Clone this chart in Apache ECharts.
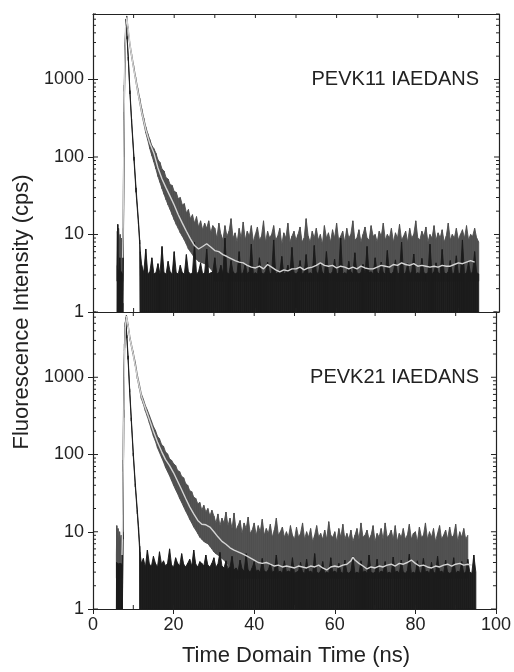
<!DOCTYPE html>
<html>
<head>
<meta charset="utf-8">
<script src="https://cdn.jsdelivr.net/npm/echarts@6/dist/echarts.min.js"></script>
<style>
    html, body { margin: 0; padding: 0; background: #fff; }
    #decayChart { width: 514px; height: 672px; }
</style>
</head>
<body>
<div id="decayChart"></div>
<script>
"use strict";

// ---- PEVK11 (upper panel) ----
// measured decay, [time ns, low edge, high edge] where the trace has a shape
var decay11Shape = [
    [5.9, 2.5, 4], [6.0, 2.5, 11], [6.15, 2.5, 7], [6.3, 2.5, 12], [6.5, 2.5, 8], [6.7, 2.5, 10],
    [6.9, 2.5, 6.5], [7.1, 2.5, 9], [7.3, 2.5, 6], [7.4, 8, 12], [7.55, 100, 130], [7.7, 700, 850],
    [7.9, 2600, 3000], [8.1, 4800, 5300], [8.3, 6200, 6600], [8.6, 4500, 4800], [9.0, 2900, 3150],
    [9.5, 1950, 2150], [10, 1380, 1520], [10.5, 970, 1080], [11, 690, 780], [11.5, 500, 575],
    [12, 360, 420], [12.5, 272, 318], [13, 205, 245], [13.5, 165, 200], [14, 128, 168], [14.5, 104, 140],
    [15, 86, 128], [15.5, 70, 112], [16, 56, 92], [16.5, 47, 85], [17, 39, 70], [17.5, 33, 66],
    [18, 28, 54], [18.5, 24, 52], [19, 21, 44], [19.5, 18, 43], [20, 15.5, 36], [20.5, 13.5, 35],
    [21, 12, 29], [21.5, 10.5, 30], [22, 9.5, 24], [22.5, 8.5, 25], [23, 7.5, 19], [23.5, 6.5, 21],
    [24, 6, 16], [24.5, 5.5, 18], [25, 5, 14], [25.5, 4.8, 17], [26, 4.5, 12.5], [26.5, 4.4, 15],
    [27, 4.3, 11.5], [27.5, 4.2, 14], [28, 4.0, 12], [28.5, 3.8, 15], [29, 3.6, 10.5], [29.5, 3.3, 13]
];
// noisy tail, high edge every 0.5 ns from 30 ns
var decay11TailStart = 30;
var decay11TailLo = 2.5;
var decay11TailHi = [
    12, 9, 14, 10, 8.5, 13, 9.5, 11, 16, 9, 10.5, 8, 12, 9, 14.5, 8.5, 11, 9.5, 13, 8,
    10, 12.5, 8.5, 9.5, 15, 8, 11, 9, 10, 13, 8.5, 9.5, 12, 7.5, 10.5, 9, 14, 8, 9.5, 11,
    8.5, 10, 12.5, 8, 9, 16, 9.5, 8, 11, 9, 12, 8.5, 10, 7.5, 13, 9, 10.5, 8, 11.5, 9,
    14, 8.5, 9.5, 11, 8, 12, 9, 10, 15, 8.5, 9, 11.5, 8, 10, 12.5, 9, 8.5, 13, 9.5, 10,
    8, 11, 9.5, 14, 8.5, 10, 9, 12, 8, 10.5, 9, 13.5, 8.5, 9.5, 11, 8, 12, 9, 10, 15,
    9, 8.5, 11, 9.5, 12.5, 8, 10, 9, 13, 8.5, 10.5, 9, 11.5, 8, 9.5, 14, 8.5, 10, 9, 12,
    8.5, 10, 11.5, 9, 13, 8.5, 10, 9.5, 12, 9, 8
];
// instrument response (black)
var irf11Shape = [
    [5.95, 1, 1], [6.0, 1, 4], [6.1, 1, 13.5], [6.2, 1, 3.5], [6.4, 1, 3.2], [6.6, 1, 5], [6.8, 1, 3.1],
    [7.0, 1, 3.3], [7.2, 1, 3.1], [7.3, 1, 1], [7.35, 1, 1.3], [7.5, 8, 10], [7.7, 300, 380],
    [7.9, 2400, 2800], [8.1, 5500, 6000], [8.4, 3300, 3600], [8.7, 1750, 1950], [9.1, 650, 720],
    [9.5, 280, 310], [10.1, 90, 100], [10.6, 35, 40], [11.2, 13.5, 15], [11.5, 7.5, 8.5], [11.65, 1, 6]
];
var irf11TailStart = 12;
var irf11TailLo = 1;
var irf11TailHi = [
    4, 3.2, 6.5, 3.1, 3.3, 5, 3.1, 3.2, 4.2, 3.1, 7, 3.2, 3.1, 4.5, 3.3, 3.1, 6, 3.2, 3.1, 4,
    3.2, 3.1, 5.5, 3.3, 3.1, 3.2, 8, 3.1, 3.3, 4.3, 3.1, 3.2, 6.5, 3.1, 3.2, 3.3, 5, 3.1, 3.2, 4,
    3.1, 9, 3.2, 3.1, 4.6, 3.3, 3.1, 3.2, 6, 3.1, 3.2, 4.2, 3.1, 3.3, 7.5, 3.1, 3.2, 3.1, 5, 3.2,
    3.1, 3.3, 4.4, 3.1, 3.2, 8.5, 3.1, 3.2, 3.3, 5.2, 3.1, 3.2, 4, 3.1, 6.8, 3.2, 3.1, 3.3, 4.6, 3.1,
    3.2, 5.5, 3.1, 3.2, 3.1, 7.2, 3.3, 3.1, 4.3, 3.2, 3.1, 6, 3.2, 3.1, 3.3, 4.8, 3.1, 3.2, 9, 3.1,
    3.2, 3.1, 4.5, 3.3, 3.1, 5.8, 3.2, 3.1, 3.2, 4.1, 3.1, 7, 3.2, 3.3, 3.1, 5, 3.2, 3.1, 4.4, 3.2,
    3.1, 6.2, 3.2, 3.1, 3.3, 4.7, 3.1, 3.2, 8, 3.1, 3.2, 4.2, 3.1, 3.3, 5.6, 3.1, 3.2, 3.1, 4.9, 3.2,
    3.1, 3.2, 7.5, 3.1, 3.3, 4.3, 3.2, 3.1, 6.4, 3.2, 3.1, 3.3, 4.6, 3.1, 3.2, 5.3, 3.1, 3.2, 8.5, 3.1,
    3.2, 4.4, 3.1, 3.3, 6, 3.2, 3.1
];
// fitted curve (light line)
var fit11 = [
    [7.3, 5], [7.4, 10], [7.6, 150], [7.8, 1500], [8.0, 4500], [8.3, 6300], [8.7, 4400], [9.2, 2600],
    [10, 1400], [11, 720], [12, 380], [13, 225], [14, 150], [15, 112], [16, 72], [17, 52], [18, 40],
    [19, 31], [20, 24], [21, 18], [22, 14], [23, 11], [24, 8.8], [25, 7.2], [26, 6.5], [27, 7.0],
    [28, 7.6], [29, 6.9], [30, 6.2], [31, 6.0], [32, 5.5], [33, 5.2], [34, 4.9], [35, 4.6], [36, 4.4],
    [37, 4.3], [38, 4.0], [39, 3.8], [40, 3.7], [41, 3.9], [42, 3.6], [43, 4.1], [44, 3.8], [45, 3.5],
    [46, 3.3], [47, 3.5], [48, 3.4], [49, 3.6], [50, 3.6], [51, 3.8], [52, 3.5], [53, 3.7], [54, 3.8],
    [55, 4.0], [56, 4.3], [57, 4.0], [58, 3.9], [59, 4.0], [60, 3.7], [61, 3.9], [62, 3.8], [63, 3.6],
    [64, 3.8], [65, 3.6], [66, 3.9], [67, 3.7], [68, 3.6], [69, 3.6], [70, 3.8], [71, 4.0], [72, 3.9],
    [73, 3.8], [74, 4.1], [75, 4.0], [76, 4.3], [77, 4.1], [78, 4.0], [79, 4.2], [80, 3.9], [81, 4.0],
    [82, 3.9], [83, 3.8], [84, 3.9], [85, 3.8], [86, 4.0], [87, 3.9], [88, 3.9], [89, 4.1], [90, 4.3],
    [91, 4.2], [92, 4.4], [93, 4.6], [94, 4.4]
];

// ---- PEVK21 (lower panel) ----
var decay21Shape = [
    [5.8, 2.5, 5], [5.9, 2.5, 12], [6.05, 2.5, 8], [6.2, 2.5, 11], [6.4, 2.5, 7], [6.6, 2.5, 10],
    [6.8, 2.5, 7.5], [7.0, 2.5, 9], [7.2, 2.5, 6], [7.3, 5, 8], [7.45, 60, 85], [7.6, 500, 650],
    [7.8, 2200, 2700], [8.0, 4500, 5100], [8.3, 6000, 6400], [8.7, 4500, 4900], [9.2, 3000, 3250],
    [9.9, 2000, 2200], [10.5, 1400, 1560], [11, 960, 1080], [11.5, 720, 820], [12, 530, 610],
    [12.5, 450, 520], [13, 365, 430], [13.5, 310, 375], [14, 255, 320], [14.5, 210, 272], [15, 172, 230],
    [15.5, 148, 205], [16, 122, 172], [16.5, 106, 160], [17, 92, 135], [17.5, 80, 128], [18, 68, 108],
    [18.5, 60, 102], [19, 53, 88], [19.5, 46, 84], [20, 40, 76], [20.5, 35, 72], [21, 31, 62],
    [21.5, 27, 60], [22, 24, 52], [22.5, 21, 50], [23, 18.5, 42], [23.5, 16.5, 40], [24, 14.5, 34],
    [24.5, 13, 33], [25, 11.5, 28], [25.5, 10.5, 27], [26, 9.5, 23], [26.5, 8.5, 24], [27, 8, 19],
    [27.5, 7.5, 22], [28, 7.2, 18], [28.5, 7, 20], [29, 6.5, 16], [29.5, 6, 19], [30, 5.5, 16],
    [30.5, 5.2, 13], [31, 5, 17], [31.5, 4.8, 12], [32, 4.5, 15], [32.5, 4.3, 13], [33, 4, 18], [33.5, 3.8, 12]
];
var decay21TailStart = 34;
var decay21TailLo = 2.5;
var decay21TailHi = [
    15, 11, 17.5, 10.5, 12, 14, 9.5, 13,
    11, 15.5, 9.5, 10.5, 13, 9, 12, 10, 14.5, 9, 11, 9.5, 12.5, 8.5, 10.5, 15, 9, 10, 11.5, 8.5,
    10, 8.5, 12, 9, 8, 11.5, 8.5, 9.5, 13, 8, 10, 8.5, 11, 7.5, 9, 12, 8.5, 9.5, 8, 10.5,
    8, 13.5, 9, 8.5, 10, 7.5, 11, 8.5, 12.5, 8, 9.5, 8, 10.5, 7.5, 9, 11, 8, 13, 8.5, 9,
    10.5, 8, 9, 12, 7.5, 9.5, 8.5, 11, 8, 13, 8.5, 9, 10.5, 8, 12, 7.5, 9.5, 8.5, 11, 8,
    9, 12.5, 8, 9.5, 10, 7.5, 11.5, 8.5, 9, 13, 8, 10, 8.5, 11, 7.5, 9.5, 12, 8, 9, 10.5,
    8, 11.5, 8.5, 9, 12.5, 7.5, 10, 8.5, 11, 8, 9
];
var irf21Shape = [
    [5.8, 1, 1], [5.85, 1, 4], [5.95, 1, 3.8], [6.1, 1, 3.9], [6.3, 1, 3.7], [6.5, 1, 3.9], [6.7, 1, 3.6],
    [6.9, 1, 3.9], [7.1, 1, 3.7], [7.2, 1, 1], [7.3, 1, 1.3], [7.45, 8, 10], [7.65, 300, 380],
    [7.85, 2400, 2800], [8.1, 5400, 5900], [8.4, 3200, 3500], [8.7, 1700, 1900], [9.1, 640, 710],
    [9.5, 270, 300], [10.0, 95, 105], [10.5, 38, 42], [11, 17, 19], [11.3, 10, 11.5], [11.6, 5.5, 6.5],
    [11.65, 1, 5.5]
];
var irf21TailStart = 12;
var irf21TailLo = 1;
var irf21TailHi = [
    3.9, 4.5, 3.5, 5.8, 3.8, 3.6, 4.8, 3.9, 3.5, 5.5, 3.8, 4.2, 3.6, 3.9, 6, 3.7, 3.5, 4.6, 3.9, 3.6,
    5.2, 3.8, 3.5, 3.9, 4.4, 3.6, 5.8, 3.8, 3.5, 4.1, 3.9, 3.6, 5, 3.7, 3.5, 3.9, 4.6, 3.5, 3.8, 5.4,
    3.6, 3.4, 4.2, 3.3, 3.5, 4.8, 3.2, 3.4, 3.1, 4.3, 3.3, 3.1, 5.2, 3.2, 3.0, 3.4, 4.1, 3.1, 3.2, 3.0,
    4.5, 3.1, 3.0, 3.2, 3.9, 3.0, 3.1, 5, 3.0, 3.1, 2.9, 4.2, 3.0, 3.1, 3.0, 4.6, 2.9, 3.0, 3.1, 4,
    3.0, 2.9, 4.4, 3.0, 3.1, 2.9, 5.2, 3.0, 2.9, 3.1, 4.1, 2.9, 3.0, 2.9, 4.6, 3.0, 3.1, 2.9, 3.9, 3.0,
    2.9, 4.3, 3.0, 2.9, 3.1, 4.8, 2.9, 3.0, 2.9, 4.2, 3.0, 3.1, 2.9, 5, 3.0, 2.9, 3.0, 4.4, 2.9, 3.1,
    3.0, 4.1, 2.9, 3.0, 2.9, 4.7, 3.0, 3.1, 2.9, 4.3, 3.0, 2.9, 3.1, 5.1, 2.9, 3.0, 2.9, 4.2, 3.0, 2.9,
    4.5, 3.0, 3.1, 2.9, 4, 3.0, 2.9, 4.8, 3.0, 3.1, 2.9, 4.3, 3.0, 2.9, 3.0, 4.6, 2.9, 3.1, 3.0, 4.1,
    2.9, 3.0, 4.4, 3.0, 2.9, 5, 3.0
];
var fit21 = [
    [7.2, 5], [7.35, 12], [7.6, 200], [7.8, 1500], [8.0, 4300], [8.3, 6200], [8.7, 4700], [9.2, 3100],
    [9.9, 2100], [11, 1000], [12, 570], [13, 400], [14, 285], [15, 200], [16, 145], [17, 110], [18, 86],
    [19, 72], [20, 58], [21, 45], [22, 35], [23, 27], [24, 21], [25, 17], [26, 14], [27, 12.5],
    [28, 12.3], [29, 11.5], [30, 10], [31, 8.6], [32, 7.5], [33, 6.9], [34, 6.2], [35, 5.8], [36, 5.5],
    [37, 5.2], [38, 4.9], [39, 4.6], [40, 4.3], [41, 4.0], [42, 3.9], [43, 4.0], [44, 3.8], [45, 3.6],
    [46, 3.7], [47, 3.5], [48, 3.6], [49, 3.5], [50, 3.4], [51, 3.6], [52, 3.5], [53, 3.4], [54, 3.6],
    [55, 3.5], [56, 3.7], [57, 3.4], [58, 3.2], [59, 3.5], [60, 3.6], [61, 3.5], [62, 3.7], [63, 3.8],
    [64, 4.2], [64.5, 4.7], [65, 4.3], [66, 3.9], [67, 3.6], [68, 3.3], [69, 3.5], [70, 3.4], [71, 3.6],
    [72, 3.5], [73, 3.7], [74, 3.8], [75, 3.6], [76, 3.9], [77, 3.8], [78, 4.0], [79, 4.3], [80, 3.9],
    [81, 3.6], [82, 3.7], [83, 3.5], [84, 3.4], [85, 3.6], [86, 3.5], [87, 3.7], [88, 3.8], [89, 3.6],
    [90, 3.8], [91, 3.9], [92, 3.7], [93, 3.8], [94, 3.7]
];

var tailStep = 0.5;
var panelTitles = ["PEVK11 IAEDANS", "PEVK21 IAEDANS"];
var yMajorTicks = [1, 10, 100, 1000];
var yMinorTicks = [2, 3, 4, 5, 6, 7, 8, 9, 20, 30, 40, 50, 60, 70, 80, 90,
    200, 300, 400, 500, 600, 700, 800, 900, 2000, 3000, 4000, 5000, 6000, 7000];
var xInnerTicks = [10, 20, 30, 40, 50, 60, 70, 80, 90];

var fontName = "'Liberation Sans', Arial, Helvetica, sans-serif";
var inkColor = "#222222";
var decayColor = "#505050";
var irfColor = "#1c1c1c";
var fitColor = "#d4d4d4";

(function () {
    var chart = echarts.init(document.getElementById("decayChart"), null, {renderer: "canvas"});

    // join the shaped part and the tail into one list of [t, lo, hi], then into segments
    function buildSegments(shape, tailStart, tailLo, tailHi) {
        var points = shape.slice();
        tailHi.forEach(function (hi, i) {
            points.push([tailStart + i * tailStep, tailLo, hi]);
        });
        var segments = [];
        for (var i = 0; i < points.length - 1; i++) {
            var a = points[i], b = points[i + 1];
            segments.push([a[0], a[1], a[2], b[0], b[1], b[2]]);
        }
        return segments;
    }

    function bandRenderer(color) {
        return function (params, api) {
            var aLo = api.coord([api.value(0), api.value(1)]);
            var aHi = api.coord([api.value(0), api.value(2)]);
            var bLo = api.coord([api.value(3), api.value(4)]);
            var bHi = api.coord([api.value(3), api.value(5)]);
            return {
                type: "polygon",
                shape: {points: [aLo, aHi, bHi, bLo]},
                style: {fill: color, stroke: color, lineWidth: 0.9}
            };
        };
    }

    // inside ticks on the left/right frame (y) and on the top/bottom frame (x)
    function yTickRenderer(params, api) {
        var cs = params.coordSys;
        var len = api.value(0);
        var y = api.coord([50, api.value(1)])[1];
        var style = {stroke: inkColor, lineWidth: 1};
        return {
            type: "group",
            children: [
                {type: "line", shape: {x1: cs.x, y1: y, x2: cs.x + len, y2: y}, style: style},
                {type: "line", shape: {x1: cs.x + cs.width, y1: y, x2: cs.x + cs.width - len, y2: y}, style: style}
            ]
        };
    }

    function xTickRenderer(params, api) {
        var cs = params.coordSys;
        var x = api.coord([api.value(0), 10])[0];
        var len = api.value(1);
        var style = {stroke: inkColor, lineWidth: 1};
        return {
            type: "group",
            children: [
                {type: "line", shape: {x1: x, y1: cs.y, x2: x, y2: cs.y + len}, style: style},
                {type: "line", shape: {x1: x, y1: cs.y + cs.height, x2: x, y2: cs.y + cs.height - len}, style: style}
            ]
        };
    }

    var yTickData = [];
    yMajorTicks.forEach(function (v) { yTickData.push([5, v]); });
    yMinorTicks.forEach(function (v) { yTickData.push([3, v]); });
    var xTickData = xInnerTicks.map(function (v) { return [v, 4]; });

    var frameLine = {show: true, onZero: false, lineStyle: {color: inkColor, width: 1.2}};
    var grids = [
        {left: 93, top: 14, width: 406, height: 298},
        {left: 93, top: 312, width: 406, height: 297}
    ];

    var xAxes = [], yAxes = [], series = [];
    var panels = [
        {decay: buildSegments(decay11Shape, decay11TailStart, decay11TailLo, decay11TailHi),
            irf: buildSegments(irf11Shape, irf11TailStart, irf11TailLo, irf11TailHi), fit: fit11},
        {decay: buildSegments(decay21Shape, decay21TailStart, decay21TailLo, decay21TailHi),
            irf: buildSegments(irf21Shape, irf21TailStart, irf21TailLo, irf21TailHi), fit: fit21}
    ];

    panels.forEach(function (panel, g) {
        var isLast = g === panels.length - 1;
        xAxes.push({
            gridIndex: g, type: "value", position: "bottom", min: 0, max: 100, interval: 20,
            axisLine: frameLine,
            axisTick: {show: isLast, inside: false, length: 5, lineStyle: {color: inkColor}},
            axisLabel: {show: isLast, color: inkColor, fontSize: 18, fontFamily: fontName, margin: 7},
            splitLine: {show: false}
        });
        xAxes.push({
            gridIndex: g, type: "value", position: "top", min: 0, max: 100,
            axisLine: frameLine, axisTick: {show: false}, axisLabel: {show: false}, splitLine: {show: false}
        });
        yAxes.push({
            gridIndex: g, type: "log", logBase: 10, min: 1, max: 7000, position: "left",
            axisLine: frameLine,
            axisTick: {show: true, inside: false, length: 5, lineStyle: {color: inkColor}},
            axisLabel: {
                color: inkColor, fontSize: 18, fontFamily: fontName, margin: 9, showMaxLabel: false,
                formatter: function (v) { return String(Math.round(v)); }
            },
            splitLine: {show: false}
        });
        yAxes.push({
            gridIndex: g, type: "log", logBase: 10, min: 1, max: 7000, position: "right",
            axisLine: frameLine, axisTick: {show: false}, axisLabel: {show: false}, splitLine: {show: false}
        });

        var xi = g * 2, yi = g * 2;
        series.push({
            name: "decay" + g, type: "custom", xAxisIndex: xi, yAxisIndex: yi, z: 2, clip: true,
            renderItem: bandRenderer(decayColor), data: panel.decay, animation: false,
            encode: {x: [0, 3], y: [1, 2, 4, 5]}
        });
        series.push({
            name: "irf" + g, type: "custom", xAxisIndex: xi, yAxisIndex: yi, z: 3, clip: true,
            renderItem: bandRenderer(irfColor), data: panel.irf, animation: false,
            encode: {x: [0, 3], y: [1, 2, 4, 5]}
        });
        series.push({
            name: "fit" + g, type: "line", xAxisIndex: xi, yAxisIndex: yi, z: 4,
            data: panel.fit, showSymbol: false, symbol: "none", animation: false,
            lineStyle: {color: fitColor, width: 1.4}
        });
        series.push({
            name: "yticks" + g, type: "custom", xAxisIndex: xi, yAxisIndex: yi, z: 5,
            renderItem: yTickRenderer, data: yTickData, animation: false, silent: true,
            encode: {x: 0, y: 1}
        });
        series.push({
            name: "xticks" + g, type: "custom", xAxisIndex: xi, yAxisIndex: yi, z: 5,
            renderItem: xTickRenderer, data: xTickData, animation: false, silent: true,
            encode: {x: 0, y: 1}
        });
    });

    var graphics = [
        {
            type: "text", x: 22, y: 312, rotation: Math.PI / 2,
            style: {text: "Fluorescence Intensity (cps)", fill: inkColor, font: "22px " + fontName,
                textAlign: "center", textVerticalAlign: "middle"}
        },
        {
            type: "text", x: 296, y: 656,
            style: {text: "Time Domain Time (ns)", fill: inkColor, font: "22px " + fontName,
                textAlign: "center", textVerticalAlign: "middle"}
        }
    ];
    panelTitles.forEach(function (title, g) {
        graphics.push({
            type: "text", x: 479, y: grids[g].top + 65,
            style: {text: title, fill: inkColor, font: "20px " + fontName,
                textAlign: "right", textVerticalAlign: "middle"}
        });
    });

    chart.setOption({
        animation: false,
        backgroundColor: "#ffffff",
        grid: grids,
        xAxis: xAxes,
        yAxis: yAxes,
        graphic: graphics,
        series: series
    });

    window.addEventListener("resize", function () {
        chart.resize();
    });
})();
</script>
</body>
</html>
